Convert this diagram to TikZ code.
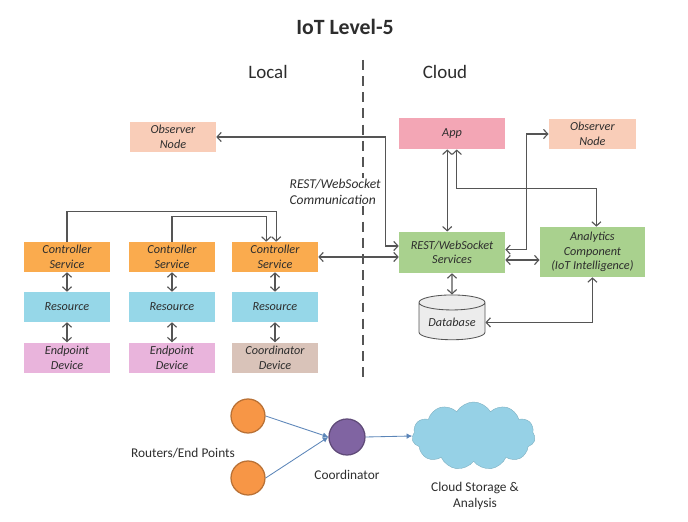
\documentclass[tikz,border=0pt]{standalone}
\usepackage{fontspec}
\setmainfont{Carlito}
\usetikzlibrary{arrows.meta,positioning,calc,shapes.geometric,shapes.symbols}
\definecolor{obsc}{RGB}{249,205,184}
\definecolor{ctrlc}{RGB}{250,171,78}
\definecolor{resc}{RGB}{150,215,232}
\definecolor{endc}{RGB}{233,180,220}
\definecolor{crdc}{RGB}{217,195,185}
\definecolor{appc}{RGB}{243,166,181}
\definecolor{grnc}{RGB}{169,209,142}
\definecolor{dbc}{RGB}{236,236,236}
\definecolor{cloudc}{RGB}{150,209,230}
\definecolor{orc}{RGB}{247,150,70}
\definecolor{purc}{RGB}{128,100,162}
\definecolor{linec}{RGB}{85,85,85}
\definecolor{bluel}{RGB}{91,133,184}
\definecolor{textc}{RGB}{45,45,45}

\begin{document}
\begin{tikzpicture}[>={Straight Barb[length=3pt,width=6.5pt]},
  box/.style={minimum width=2.15cm,minimum height=0.75cm,align=center,inner sep=1pt,text=textc,
              font=\fontsize{8.7}{10.5}\selectfont\itshape},
  con/.style={draw=linec,line width=0.8pt},
  hdr/.style={text=textc,font=\fontsize{13.5}{16}\selectfont},
  lbl/.style={text=textc,font=\fontsize{9.5}{12}\selectfont,align=center},
  dot/.style={circle,line width=0.9pt,minimum size=0.85cm,inner sep=0pt},
  flow/.style={draw=bluel,line width=0.6pt,-{Latex[length=4pt,width=4pt]}}]
\useasboundingbox (0,0) rectangle (17.2,13.05);

%============================== headings ==============================
\node[text=textc,font=\fontsize{15.5}{18}\selectfont\bfseries] (title) at (8.625,12.375) {IoT Level-5};
\node[hdr] (local) at (6.7,11.25) {Local};
\node[hdr] (cloud) at (11.125,11.25) {Cloud};
\draw[linec,line width=0.8pt,dash pattern=on 7pt off 4.5pt] (9.075,11.55) -- (9.075,3.6);

%============================== local side ==============================
\node[box,fill=obsc] (obsL) at (4.325,9.625) {Observer\\Node};

\foreach \i/\x in {1/1.675,2/4.3,3/6.875}{
  \node[box,fill=ctrlc] (ctrl\i) at (\x,6.625) {Controller\\Service};
  \node[box,fill=resc] (res\i) at (\x,5.375) {Resource};
  \draw[con,<->] (ctrl\i) -- (res\i);
}
\node[box,fill=endc] (dev1) at (1.675,4.11) {Endpoint\\Device};
\node[box,fill=endc] (dev2) at (4.3,4.11) {Endpoint\\Device};
\node[box,fill=crdc] (dev3) at (6.875,4.11) {Coordinator\\Device};
\foreach \i in {1,2,3}{\draw[con,<->] (res\i) -- (dev\i);}

\draw[con,->] (ctrl1.north) -- ++(0,0.75) -| ($(ctrl3.north)+(0.03,0)$);
\draw[con,->] (ctrl2.north) -- ++(0,0.62) -| ($(ctrl3.north)+(-0.22,0)$);

\node[box,anchor=west,align=left,fill=white,minimum width=0pt,minimum height=0pt,inner sep=1pt,
      font=\fontsize{9.6}{11}\selectfont\itshape] (comm) at (7.2,8.25) {REST/WebSocket\\Communication};

%============================== cloud side ==============================
\node[box,fill=appc,minimum width=2.65cm,minimum height=0.78cm] (app) at (11.3,9.71) {App};
\node[box,fill=obsc,minimum width=2.18cm] (obsR) at (14.81,9.7) {Observer\\Node};
\node[box,fill=grnc,minimum width=2.65cm,minimum height=1.03cm] (rest) at (11.3,6.74) {REST/WebSocket\\Services};
\node[box,fill=grnc,minimum width=2.63cm,minimum height=1.25cm] (anal) at (14.81,6.75) {Analytics\\Component\\(IoT Intelligence)};
\node[box,cylinder,shape border rotate=90,aspect=0.3,draw=linec,line width=0.6pt,fill=dbc,
      minimum width=1.65cm,minimum height=1.12cm] (db) at (11.3,4.99) {Database};

\draw[con,<->] (ctrl3.east) -- (ctrl3.east -| rest.west);
\draw[con,<->] (obsL.east) -| ($(rest.west)+(-0.33,0.16)$) -- ($(rest.west)+(0,0.16)$);
\draw[con,<->] ($(app.south)+(-0.12,0)$) -- ($(rest.north)+(-0.12,0)$);
\draw[con,<->] ($(app.south)+(0.12,0)$) -- ++(0,-0.98) -| ($(anal.north)+(0.1,0)$);
\draw[con,<->] ($(rest.east)+(0,0.07)$) -- ++(0.52,0) |- (obsR.west);
\draw[con,<->] ($(rest.east)+(0,-0.19)$) coordinate (ra) -- (ra -| anal.west);
\draw[con,<->] (rest.south) -- (db.north);
\draw[con,<->] (db.east) -| (anal.south);

%============================== bottom: the network ==============================
\node[dot,fill=orc,draw=orc!75!black] (ep1) at (6.2,2.65) {};
\node[dot,fill=orc,draw=orc!75!black] (ep2) at (6.2,1.1) {};
\node[dot,fill=purc,draw=purc!75!black,minimum size=0.9cm] (crd) at (8.675,2.125) {};
\node[cloud,cloud puffs=11,cloud puff arc=120,aspect=1.8,fill=cloudc,draw=cloudc!85!black,line width=0.3pt,
      minimum width=3.08cm,minimum height=1.7cm] (store) at (11.84,2.15) {};
\draw[flow] (ep1.east) -- (crd.west);
\draw[flow] (ep2.east) -- (crd.west);
\draw[flow] (crd.east) -- (store.west);

\node[lbl] (rlab) at (4.575,1.725) {Routers/End Points};
\node[lbl] (clab) at (8.675,1.175) {Coordinator};
\node[lbl] (slab) at (11.875,0.65) {Cloud Storage \&\\Analysis};
\end{tikzpicture}
\end{document}
